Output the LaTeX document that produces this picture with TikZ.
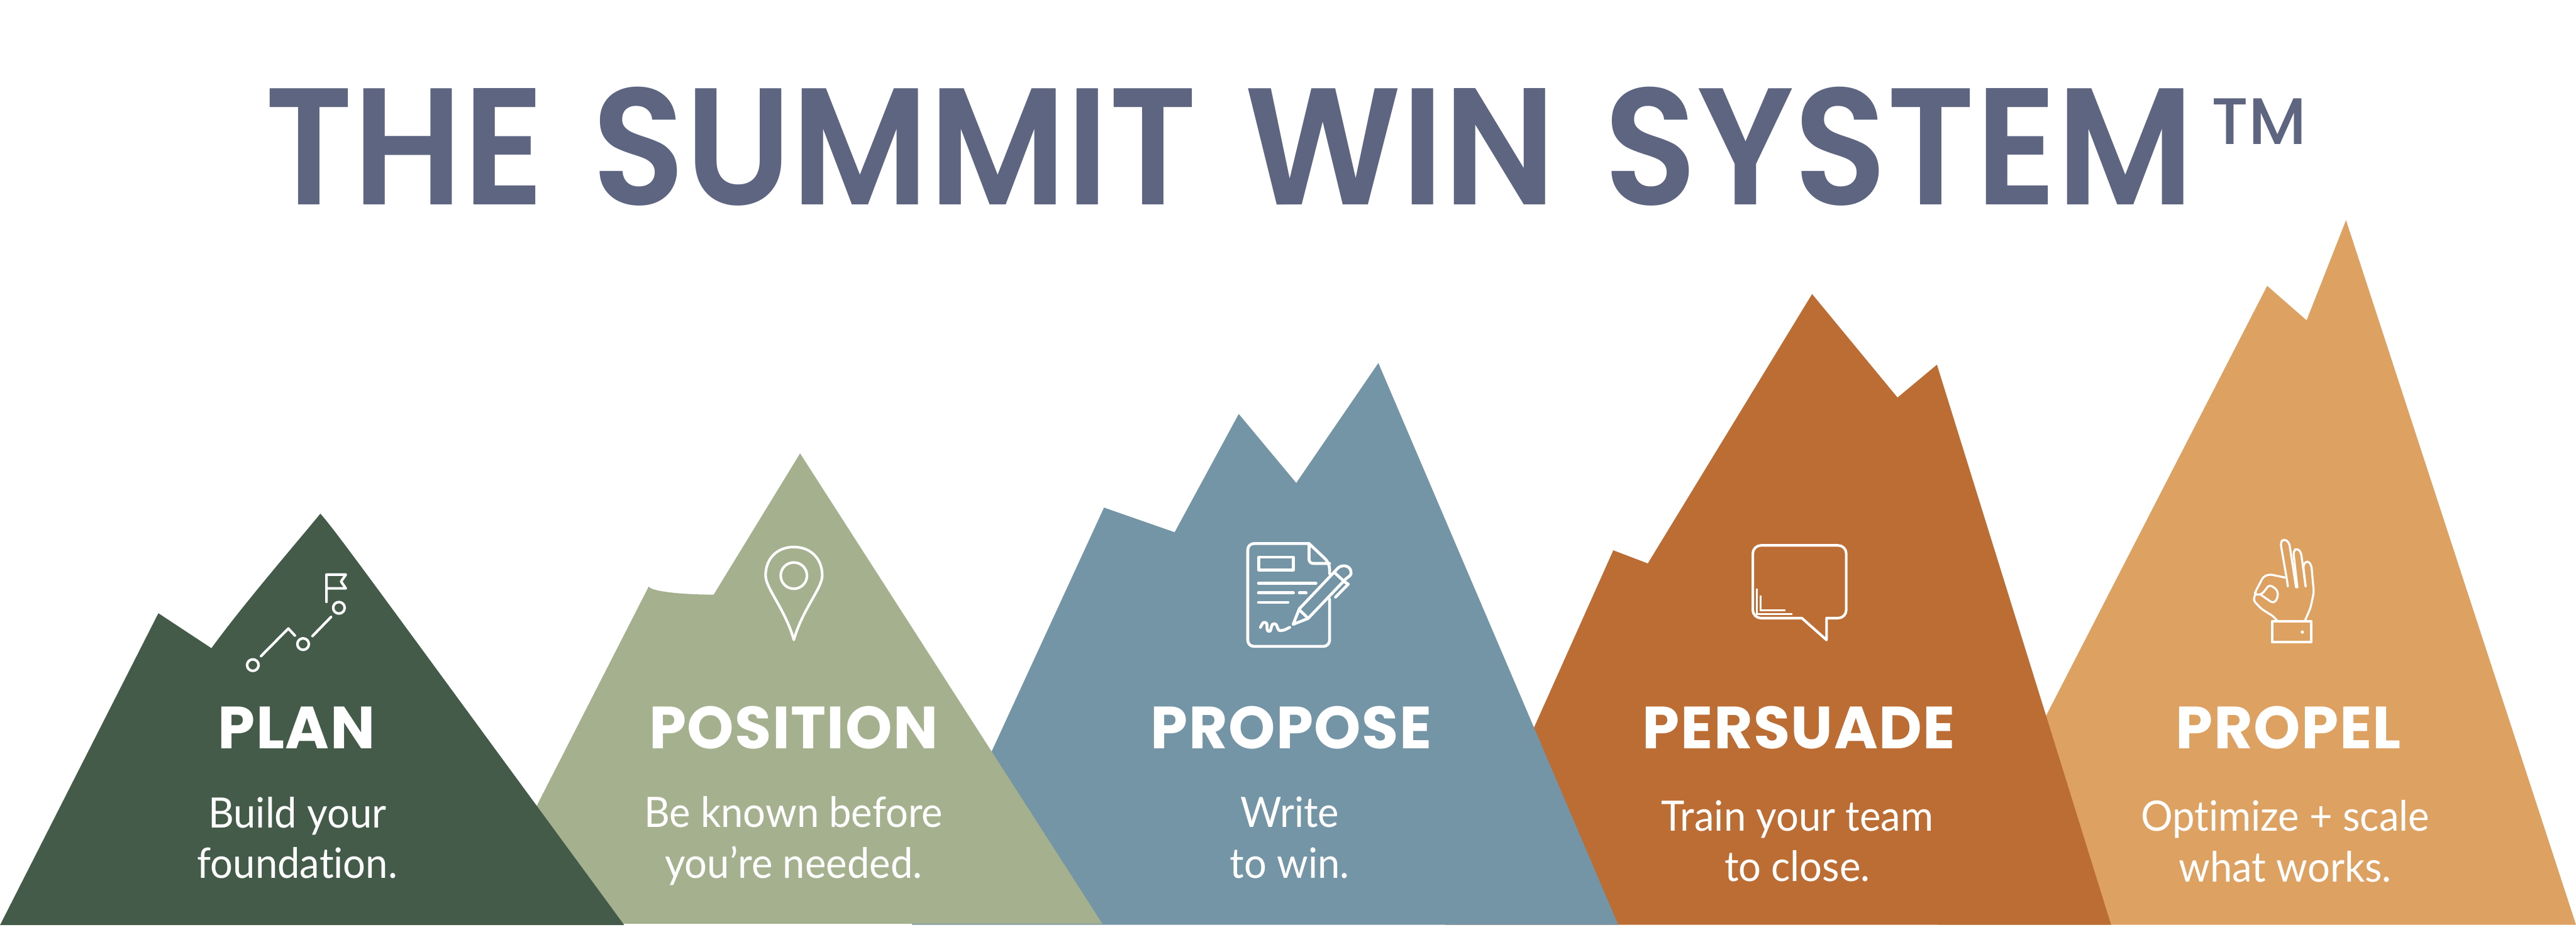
\documentclass[tikz,border=0pt]{standalone}
\usepackage{fontspec}
\setmainfont{Lato}[Ligatures=NoCommon]
\newfontfamily\headfont{Poppins}[LetterSpace=1.5]
\newfontfamily\titlefont{Poppins SemiBold}[WordSpace=1.32]
\newfontfamily\markfont{Poppins Medium}
\usetikzlibrary{calc}

\definecolor{plangreen}{HTML}{445B4A}
\definecolor{positiongreen}{HTML}{A5B18E}
\definecolor{proposeblue}{HTML}{7495A5}
\definecolor{persuadebrown}{HTML}{BB6D33}
\definecolor{propelorange}{HTML}{DDA161}
\definecolor{titleslate}{HTML}{5D6580}

\tikzset{
    titletext/.style={text=titleslate, xscale=0.918, transform shape, font=\titlefont\fontsize{81}{90}\selectfont},
    headtext/.style={text=white, font=\headfont\bfseries\fontsize{29}{34}\selectfont},
    bodytext/.style={text=white, align=center, xscale=0.95, transform shape, font=\fontsize{20.4}{24.7}\selectfont},
    icon/.style={draw=white, line width=1.4pt, line cap=round, line join=round},
    thinicon/.style={draw=white, line width=1.25pt, line cap=round, line join=round},
    handicon/.style={draw=white, line width=1pt, line cap=round, line join=round, rounded corners=1.5pt},
}

\begin{document}
\begin{tikzpicture}[x=0.028112cm, y=-0.028112cm]
        \useasboundingbox (0,0) rectangle (1568,573.4);

        % title
        \node[titletext] (title) at (748.5,89) {THE SUMMIT WIN SYSTEM};
        \node[text=titleslate, font=\markfont\fontsize{32}{36}\selectfont] (tm) at (1375,74) {TM};

        % mountains, back to front
        \coordinate (f1) at (1180,563);
        \coordinate (f2) at (1380,174);
        \coordinate (f3) at (1404,195);
        \coordinate (f4) at (1428,134);
        \coordinate (f5) at (1568,563);
        \fill[propelorange] (f1) -- (f2) -- (f3) -- (f4) -- (f5) -- cycle;

        \coordinate (e1) at (880,563);
        \coordinate (e2) at (982,335);
        \coordinate (e3) at (1003,343);
        \coordinate (e4) at (1103,179);
        \coordinate (e5) at (1155,242);
        \coordinate (e6) at (1179,222);
        \coordinate (e7) at (1285,563);
        \fill[persuadebrown] (e1) -- (e2) -- (e3) -- (e4) -- (e5) -- (e6) -- (e7) -- cycle;

        \coordinate (d1) at (555,563);
        \coordinate (d2) at (672,309);
        \coordinate (d3) at (715,324);
        \coordinate (d4) at (754,252);
        \coordinate (d5) at (789,294);
        \coordinate (d6) at (839,221);
        \coordinate (d7) at (985,563);
        \fill[proposeblue] (d1) -- (d2) -- (d3) -- (d4) -- (d5) -- (d6) -- (d7) -- cycle;

        \coordinate (c1) at (290,562.4);
        \coordinate (c2) at (394.9,357);
        \coordinate (c3) at (434.4,362);
        \coordinate (c4) at (487,276);
        \coordinate (c5) at (671,562.4);
        \fill[positiongreen] (c1) -- (c2) .. controls (396,360) and (415,362) .. (c3) -- (c4) -- (c5) -- cycle;

        \coordinate (b1) at (0,563.2);
        \coordinate (b2) at (96.4,373.3);
        \coordinate (b3) at (128.7,394.6);
        \coordinate (b4) at (195,312.7);
        \coordinate (b5) at (380,563.2);
        \fill[plangreen] (b1) -- (b2) -- (b3) .. controls (148,368) and (180,331) .. (b4) .. controls (205,324) and (225,352) .. (b5) -- cycle;

        % labels
        \node[headtext] (plan) at (180.5,443) {PLAN};
        \node[headtext] (position) at (483,443) {POSITION};
        \node[headtext] (propose) at (786,443) {PROPOSE};
        \node[headtext] (persuade) at (1095,443) {PERSUADE};
        \node[headtext] (propel) at (1393,443) {PROPEL};

        \node[bodytext] (plantext) at (181,510) {Build your\\foundation.};
        \node[bodytext] (positiontext) at (483,512) {Be known before\\you’re needed.};
        \node[bodytext] (proposetext) at (785,510) {Write\\to win.};
        \node[bodytext] (persuadetext) at (1094,512) {Train your team\\to close.};
        \node[bodytext] (propeltext) at (1391,512) {Optimize + scale\\what works.};

        % flag and trail
        \draw[thinicon] (198.7,366.4) -- (198.7,349.8) -- (210.5,349.8) -- (207.6,354) -- (210.5,358.2) -- (198.7,358.2);
        \draw[thinicon] (206.3,370) circle (3.5);
        \draw[thinicon] (201.5,375.6) -- (190.2,387.2);
        \draw[thinicon] (184.5,392.1) circle (3.5);
        \draw[thinicon] (179.5,386.9) -- (175.5,382.6) -- (158.9,399.4);
        \draw[thinicon] (153.9,404.9) circle (3.5);

        % pin
        \draw[thinicon] (483.2,389.5) .. controls (478,371) and (466,358) .. (466,350.4)
            .. controls (466,340) and (473,333) .. (483.2,333)
            .. controls (493.4,333) and (500.5,340) .. (500.5,350.4)
            .. controls (500.5,358) and (488.4,371) .. cycle;
        \draw[thinicon] (483.2,350.4) circle (8);

        % document and pen
        \draw[icon, rounded corners=3pt] (809.3,349.3) -- (809.3,342.7) [sharp corners] -- (796.8,330.9) [rounded corners=3pt] -- (759.5,330.9) -- (759.5,393.5) -- (809.3,393.5) [sharp corners] -- (809.3,364.7);
        \draw[icon, rounded corners=2pt] (796.8,330.9) -- (796.8,343) -- (809.3,343);
        \draw[icon] (766.2,339.2) rectangle (787.3,347);
        \draw[icon] (766,355.1) -- (801,355.1);
        \draw[icon] (766,360.9) -- (787.3,360.9);
        \draw[icon] (790.9,360.9) -- (795,360.9);
        \draw[icon] (766,366.7) -- (784,366.7);
        \draw[icon] plot[smooth] coordinates {(767.2,381.9) (769,379) (771,379.5) (771.4,383.6) (773.1,384.2) (774.5,380.1) (776.7,380.1) (778.4,383.6) (781.4,383.6) (785,381.9)};
        \draw[icon] (787.1,380.1) -- (790.9,370.6) -- (813.4,346.9) .. controls (816,343) and (822,344) .. (822.3,348) .. controls (823,350) and (821,351) .. (819.4,352.2) -- (796.2,376.5) -- cycle;
        \draw[icon] (791.5,371.8) -- (795.6,375.8);
        \draw[icon] (812.3,348.6) -- (818.8,354.5) -- (820.7,355.6) -- (812.9,363.5);

        % speech bubble
        \draw[thinicon, rounded corners=4pt] (1096.8,376.3) -- (1066.9,376.3) -- (1066.9,332) -- (1123.8,332) -- (1123.8,376.3) [sharp corners] -- (1111.8,376.3) -- (1111.8,389.6) -- cycle;
        \draw[draw=white, line width=0.8pt] (1069.4,358.4) -- (1069.4,373.8) -- (1091.1,373.8);
        \draw[draw=white, line width=0.8pt] (1071.6,362.7) -- (1071.6,371.5) -- (1086.8,371.5);

        % hand
        \draw[handicon] (1402.9,378.1) -- (1406.4,370) -- (1408.4,360.5) -- (1406.9,343.9) -- (1404.4,341.1) -- (1401.9,343.9) -- (1403.4,357);
        \draw[handicon] (1398.4,357.6) -- (1395.9,335.6) -- (1398.1,333.6) -- (1400.6,336.2) -- (1403.4,357);
        \draw[handicon] (1392.6,357) -- (1391.9,352.2) -- (1388.1,330.3) -- (1390.1,327.9) -- (1393.4,330.3) -- (1397.6,357.6);
        \draw[handicon] (1390.9,351.6) -- (1381.4,349.6) -- (1377.7,351) -- (1372.7,360.5) -- (1372.7,362.3) -- (1376.9,361.7) -- (1381.4,355.8) -- (1386.4,359.3) -- (1386.4,364.1) -- (1383.9,367.4) -- (1376.4,362.3);
        \draw[handicon] (1372.7,362.3) -- (1371.4,365.3) -- (1376.4,370.6) -- (1383.9,375.3) -- (1386.4,378.3);
        \draw[thinicon] (1383.1,378.3) rectangle (1406.9,391);
        \fill[white] (1401.4,384.8) circle (1);
\end{tikzpicture}
\end{document}
